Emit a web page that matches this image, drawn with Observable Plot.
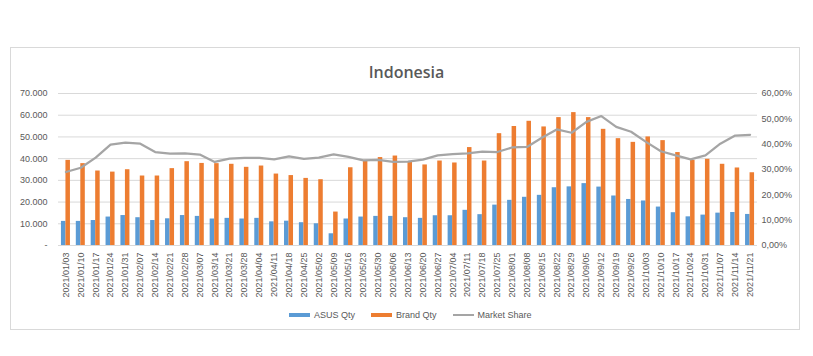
<!DOCTYPE html>
<html>
<head>
<meta charset="utf-8">
<script src="https://cdn.jsdelivr.net/npm/d3@7"></script>
<script src="https://cdn.jsdelivr.net/npm/@observablehq/plot@0.6"></script>
<style>
  html, body { margin: 0; padding: 0; background: #fff; width: 813px; height: 356px; overflow: hidden; }
  #frame { position: absolute; left: 10px; top: 47px; width: 790px; height: 283px; border: 1px solid #d9d9d9; box-sizing: border-box; }
  #chart { position: absolute; left: 0; top: 0; }
  #title { position: absolute; left: 0; top: 62px; width: 813px; text-align: center; font: 600 16px "Open Sans", sans-serif; color: #595959; line-height: 20px; }
  #legend { position: absolute; left: 289px; top: 309px; display: flex; gap: 16px; font: 9px "Liberation Sans", Arial, sans-serif; color: #595959; line-height: 12px; }
  .item { display: flex; align-items: center; gap: 4px; }
  .sw { width: 21px; height: 4px; }
  .ln { width: 21px; height: 2px; }
</style>
</head>
<body>
<div id="frame"></div>
<div id="chart"></div>
<div id="title">Indonesia</div>
<div id="legend"></div>
<script>
const dates = ["2021/01/03","2021/01/10","2021/01/17","2021/01/24","2021/01/31","2021/02/07","2021/02/14","2021/02/21","2021/02/28","2021/03/07","2021/03/14","2021/03/21","2021/03/28","2021/04/04","2021/04/11","2021/04/18","2021/04/25","2021/05/02","2021/05/09","2021/05/16","2021/05/23","2021/05/30","2021/06/06","2021/06/13","2021/06/20","2021/06/27","2021/07/04","2021/07/11","2021/07/18","2021/07/25","2021/08/01","2021/08/08","2021/08/15","2021/08/22","2021/08/29","2021/09/05","2021/09/12","2021/09/19","2021/09/26","2021/10/03","2021/10/10","2021/10/17","2021/10/24","2021/10/31","2021/11/07","2021/11/14","2021/11/21"];
const asusQty = [11100,11100,11500,13100,13800,12800,11500,12300,13800,13400,12200,12500,12200,12500,10900,11200,10500,10000,5400,12200,13100,13400,13400,12800,12500,13700,13700,16200,14200,18600,20800,22200,23100,26600,27000,28500,26900,22800,21200,20500,17700,15100,13200,14000,14900,15200,14300];
const brandQty = [39200,37700,34300,33800,34900,32000,32000,35400,38600,37800,37700,37400,36000,36600,32900,32200,30900,30300,15400,35800,39200,40500,41200,38500,37100,38900,38000,45100,38900,51500,54800,57200,54600,58900,61200,58900,53500,49200,47500,50000,48300,42800,39200,39700,37400,35700,33500];
const marketShare = [29.0,30.7,34.7,39.8,40.6,40.2,36.9,36.3,36.4,35.9,33.0,34.3,34.6,34.6,34.0,35.2,34.2,34.7,36.0,35.0,33.6,33.8,33.0,33.1,33.9,35.6,36.1,36.4,37.1,36.9,38.7,38.9,42.5,45.8,44.5,48.8,51.1,46.8,44.9,40.9,37.2,35.6,34.0,35.6,40.2,43.4,43.7];
const qtyTicks = [0,10000,20000,30000,40000,50000,60000,70000];
const shareTicks = [0,10,20,30,40,50,60];
const seriesNames = ["ASUS Qty","Brand Qty","Market Share"];
const colors = ["#5B9BD5","#ED7D31","#A5A5A5"];

const QMAX = 70000, SMAX = 60, K = QMAX / SMAX;
const rows = dates.map((d, i) => ({date: d, asus: asusQty[i], brand: brandQty[i], share: marketShare[i] * K}));

const W = 813, H = 356, mL = 58, mR = 56, mT = 93, mB = 111;
const bw = (W - mL - mR) / dates.length;
const barW = 4.5;
const half = bw / 2;
const font = '"Liberation Sans", Arial, sans-serif';

const chart = Plot.plot({
  width: W, height: H,
  marginLeft: mL, marginRight: mR, marginTop: mT, marginBottom: mB,
  style: {fontFamily: font, fontSize: "9px", color: "#595959", background: "transparent", overflow: "visible"},
  x: {type: "band", domain: dates, padding: 0},
  y: {domain: [0, QMAX]},
  marks: [
    Plot.gridY(qtyTicks, {stroke: "#d9d9d9", strokeOpacity: 1, strokeWidth: 1}),
    Plot.barY(rows, {x: "date", y: "asus", fill: colors[0], insetLeft: half - barW, insetRight: half}),
    Plot.barY(rows, {x: "date", y: "brand", fill: colors[1], insetLeft: half, insetRight: half - barW}),
    Plot.line(rows, {x: "date", y: "share", stroke: colors[2], strokeWidth: 2.25, strokeLinejoin: "round"}),
    Plot.axisY(qtyTicks, {anchor: "left", tickSize: 0, tickPadding: 11, label: null, fill: "#595959",
      tickFormat: d => d === 0 ? "-" : (d / 1000) + ".000"}),
    Plot.axisY(shareTicks.map(s => s * K), {anchor: "right", tickSize: 0, tickPadding: 4, label: null, fill: "#595959", textAnchor: "start",
      tickFormat: d => Math.round(d / K).toFixed(2).replace(".", ",") + "%"}),
    Plot.axisX({tickSize: 0, tickPadding: 7, tickRotate: -90, label: null, fill: "#595959"})
  ]
});
document.getElementById("chart").appendChild(chart);

const legend = document.getElementById("legend");
seriesNames.forEach((n, i) => {
  const it = document.createElement("div");
  it.className = "item";
  const sw = document.createElement("div");
  sw.className = i === 2 ? "ln" : "sw";
  sw.style.background = colors[i];
  const t = document.createElement("span");
  t.textContent = n;
  it.appendChild(sw); it.appendChild(t);
  legend.appendChild(it);
});
</script>
</body>
</html>
